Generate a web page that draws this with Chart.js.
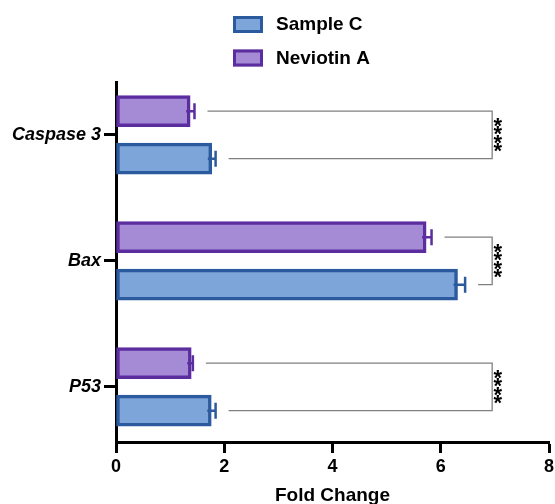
<!DOCTYPE html>
<html>
<head>
<meta charset="utf-8">
<script src="https://cdn.jsdelivr.net/npm/chart.js@4"></script>
<style>
  html, body { margin: 0; padding: 0; background: #fff; }
  #wrap { width: 555px; height: 504px; }
</style>
</head>
<body>
<div id="wrap"><canvas id="chart" width="555" height="504"></canvas></div>
<script>
// values
const categories = ['Caspase 3', 'Bax', 'P53'];
const neviotinA = [1.37, 5.73, 1.39];
const neviotinAErr = [0.08, 0.10, 0.03];
const sampleC = [1.77, 6.31, 1.76];
const sampleCErr = [0.07, 0.14, 0.08];
const xTicks = [0, 2, 4, 6, 8];
const stars = ['****', '****', '****'];

const FONT = '"Liberation Sans", Arial, sans-serif';
const purpleFill = '#a58bd5', purpleLine = '#5b2d9f';
const blueFill = '#7da5d9', blueLine = '#2c5a9e';

const errors = [neviotinAErr, sampleCErr];

// error bars drawn on top of each bar
const errorBars = {
    id: 'errorBars',
    afterDatasetsDraw(chart) {
        const ctx = chart.ctx;
        const xs = chart.scales.x;
        chart.data.datasets.forEach((ds, i) => {
            const meta = chart.getDatasetMeta(i);
            meta.data.forEach((bar, j) => {
                const v = ds.data[j].x;
                const x0 = xs.getPixelForValue(v);
                const x1 = xs.getPixelForValue(v + errors[i][j]);
                ctx.save();
                ctx.strokeStyle = ds.borderColor;
                ctx.lineWidth = 2.5;
                ctx.beginPath();
                ctx.moveTo(x0 - 4, bar.y);
                ctx.lineTo(x1, bar.y);
                ctx.moveTo(x1, bar.y - 8);
                ctx.lineTo(x1, bar.y + 8);
                ctx.stroke();
                ctx.restore();
            });
        });
    }
};

// significance brackets between the two bars of each group
const brackets = {
    id: 'brackets',
    afterDatasetsDraw(chart) {
        const ctx = chart.ctx;
        const xs = chart.scales.x;
        const bx = xs.getPixelForValue(6.95);
        const mA = chart.getDatasetMeta(0), mC = chart.getDatasetMeta(1);
        categories.forEach((c, j) => {
            const a = mA.data[j], b = mC.data[j];
            const ax = xs.getPixelForValue(neviotinA[j] + neviotinAErr[j]) + 13;
            const cx = xs.getPixelForValue(sampleC[j] + sampleCErr[j]) + 13;
            ctx.save();
            ctx.strokeStyle = '#808080';
            ctx.lineWidth = 1.3;
            ctx.beginPath();
            ctx.moveTo(ax, a.y);
            ctx.lineTo(bx, a.y);
            ctx.lineTo(bx, b.y);
            ctx.lineTo(cx, b.y);
            ctx.stroke();
            // stars stacked vertically
            const mid = (a.y + b.y) / 2;
            const n = stars[j].length;
            ctx.fillStyle = '#000';
            ctx.font = 'bold 22px ' + FONT;
            ctx.textAlign = 'center';
            ctx.textBaseline = 'alphabetic';
            const m = ctx.measureText('*');
            const off = (m.actualBoundingBoxAscent - m.actualBoundingBoxDescent) / 2;
            for (let k = 0; k < n; k++) {
                const y = mid + (k - (n - 1) / 2) * 8.2;
                ctx.fillText('*', bx + 5.5, y + off);
            }
            ctx.restore();
        });
    }
};

// vertical legend at the top, Sample C first
const topLegend = {
    id: 'topLegend',
    afterDraw(chart) {
        const ctx = chart.ctx;
        const items = [
            { label: 'Sample C', fill: blueFill, line: blueLine, y: 16 },
            { label: 'Neviotin A', fill: purpleFill, line: purpleLine, y: 49.5 }
        ];
        ctx.save();
        items.forEach(it => {
            ctx.fillStyle = it.fill;
            ctx.fillRect(233, it.y, 30, 17);
            ctx.strokeStyle = it.line;
            ctx.lineWidth = 3;
            ctx.strokeRect(234.5, it.y + 1.5, 27, 14);
            ctx.fillStyle = '#000';
            ctx.font = 'bold 19px ' + FONT;
            ctx.textAlign = 'left';
            ctx.textBaseline = 'middle';
            ctx.fillText(it.label, 276, it.y + 9);
        });
        ctx.restore();
    }
};

const ctx = document.getElementById('chart').getContext('2d');
new Chart(ctx, {
    type: 'bar',
    data: {
        datasets: [{
            label: 'Neviotin A',
            data: neviotinA.map((v, i) => ({ x: v, y: i })),
            backgroundColor: purpleFill,
            borderColor: purpleLine,
            borderWidth: 3.5,
            borderSkipped: false
        }, {
            label: 'Sample C',
            data: sampleC.map((v, i) => ({ x: v, y: i })),
            backgroundColor: blueFill,
            borderColor: blueLine,
            borderWidth: 3.5,
            borderSkipped: false
        }]
    },
    options: {
        indexAxis: 'y',
        responsive: false,
        animation: false,
        barThickness: 47.5,
        maxBarThickness: 31,
        layout: { padding: { top: 82, right: 6, left: 0, bottom: 0 } },
        plugins: {
            legend: { display: false },
            tooltip: { enabled: false }
        },
        scales: {
            x: {
                type: 'linear',
                min: 0,
                max: 8,
                afterBuildTicks: s => { s.ticks = xTicks.map(v => ({ value: v })); },
                afterFit: s => { s.height = 62; s.paddingRight = 0; s.paddingLeft = 0; },
                grid: { drawOnChartArea: false, tickLength: 11, tickWidth: 3, tickColor: '#000' },
                border: { display: true, width: 3, color: '#000' },
                ticks: { color: '#000', padding: 3, font: { family: FONT, size: 18, weight: 'bold' } },
                title: {
                    display: true,
                    text: 'Fold Change',
                    color: '#000',
                    padding: 0,
                    font: { family: FONT, size: 19, weight: 'bold', lineHeight: 0.9 }
                }
            },
            y: {
                type: 'linear',
                reverse: true,
                offset: false,
                min: -0.42,
                max: 2.437,
                afterBuildTicks: s => { s.ticks = categories.map((c, i) => ({ value: i })); },
                afterFit: s => { s.width = 116; },
                grid: { offset: false, drawOnChartArea: false, tickLength: 12, tickWidth: 3, tickColor: '#000' },
                border: { display: true, width: 3, color: '#000' },
                ticks: {
                    color: '#000',
                    padding: 3,
                    font: { family: FONT, size: 18, weight: 'bold', style: 'italic' },
                    callback: v => categories[v]
                }
            }
        }
    },
    plugins: [errorBars, brackets, topLegend]
});
</script>
</body>
</html>
